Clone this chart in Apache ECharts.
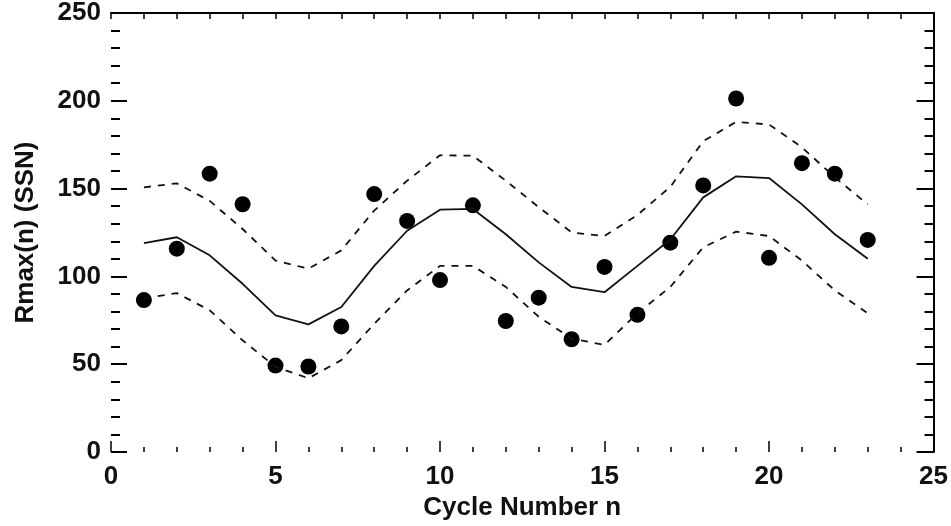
<!DOCTYPE html>
<html>
<head>
<meta charset="utf-8">
<script src="https://cdn.jsdelivr.net/npm/echarts@6/dist/echarts.min.js"></script>
<style>
  html, body { margin: 0; padding: 0; background: #fff; }
  #chart { width: 951px; height: 526px; }
</style>
</head>
<body>
<div id="chart"></div>
<script>
// cycle numbers
var cycles = [1, 2, 3, 4, 5, 6, 7, 8, 9, 10, 11, 12, 13, 14, 15, 16, 17, 18, 19, 20, 21, 22, 23];
// observed cycle maxima (dots)
var rmaxObs = [86.5, 115.8, 158.5, 141.1, 49.2, 48.7, 71.5, 146.9, 131.6, 97.9, 140.5, 74.6,
  87.9, 64.2, 105.4, 78.1, 119.2, 151.8, 201.3, 110.6, 164.5, 158.5, 120.8];
// fitted curve (solid)
var rmaxFit = [118.9, 122.3, 112, 95.8, 77.8, 72.7, 82.6, 106, 126, 138, 138.4, 124,
  108, 94, 91, 106, 121, 145, 157, 156, 141, 124, 110];
// upper / lower bounds (dashed)
var rmaxUpper = [150.7, 153, 143, 127, 109, 104.4, 114.8, 137.5, 154.5, 169, 168.7, 154.5,
  139.4, 125, 123, 135, 151, 177, 188, 186.5, 173.5, 156.4, 141];
var rmaxLower = [87.5, 90.5, 80.7, 63.6, 48.5, 42, 52.3, 73, 92, 106, 106, 94,
  77, 64.6, 61, 79, 94, 116.6, 125.5, 123, 109, 92, 79];

function pairs(ys) {
  return cycles.map(function (x, i) { return [x, ys[i]]; });
}

var font = 'Liberation Sans, Arial, Helvetica, sans-serif';
var chart = echarts.init(document.getElementById('chart'));

var option = {
  animation: false,
  backgroundColor: '#fff',
  grid: { left: 111, right: 14, top: 12, bottom: 74 },
  xAxis: [
    {
      type: 'value', position: 'bottom', min: 0, max: 25, interval: 5,
      name: 'Cycle Number n', nameLocation: 'middle', nameGap: 42,
      nameTextStyle: { fontFamily: font, fontSize: 26, fontWeight: 'bold', color: '#111' },
      axisLine: { show: false },
      axisTick: { inside: true, length: 11, lineStyle: { color: '#000', width: 1.5 } },
      minorTick: { show: true, splitNumber: 5, length: 5, lineStyle: { color: '#000', width: 1.5 } },
      axisLabel: { fontFamily: font, fontSize: 26, fontWeight: 'bold', color: '#111', margin: 12 },
      splitLine: { show: false }
    },
    {
      type: 'value', position: 'top', min: 0, max: 25, interval: 5,
      axisLine: { show: true, onZero: false, lineStyle: { color: '#000', width: 2 } },
      axisTick: { inside: true, length: 6, lineStyle: { color: '#000', width: 1.5 } },
      minorTick: { show: true, splitNumber: 5, length: 6, lineStyle: { color: '#000', width: 1.5 } },
      axisLabel: { show: false },
      splitLine: { show: false }
    }
  ],
  yAxis: [
    {
      type: 'value', position: 'left', min: 0, max: 250, interval: 50,
      name: 'Rmax(n) (SSN)', nameLocation: 'middle', nameGap: 72,
      nameTextStyle: { fontFamily: font, fontSize: 26, fontWeight: 'bold', color: '#111' },
      axisLine: { show: false },
      axisTick: { inside: true, length: 16, lineStyle: { color: '#000', width: 2 } },
      minorTick: { show: true, splitNumber: 5, length: 9, lineStyle: { color: '#000', width: 2 } },
      axisLabel: { fontFamily: font, fontSize: 26, fontWeight: 'bold', color: '#111', margin: 10 },
      splitLine: { show: false }
    },
    {
      type: 'value', position: 'right', min: 0, max: 250, interval: 50,
      axisLine: { show: true, onZero: false, lineStyle: { color: '#000', width: 2 } },
      axisTick: { inside: true, length: 17, lineStyle: { color: '#000', width: 2 } },
      minorTick: { show: true, splitNumber: 5, length: 9, lineStyle: { color: '#000', width: 2 } },
      axisLabel: { show: false },
      splitLine: { show: false }
    }
  ],
  series: [
    {
      type: 'line', data: pairs(rmaxUpper), symbol: 'none',
      lineStyle: { color: '#111', width: 1.8, type: [7, 7] }
    },
    {
      type: 'line', data: pairs(rmaxFit), symbol: 'none',
      lineStyle: { color: '#111', width: 1.8 }
    },
    {
      type: 'line', data: pairs(rmaxLower), symbol: 'none',
      lineStyle: { color: '#111', width: 1.8, type: [7, 7] }
    },
    {
      type: 'scatter', data: pairs(rmaxObs), symbol: 'circle', symbolSize: 16,
      itemStyle: { color: '#000', opacity: 1 }
    }
  ]
};

chart.setOption(option);
</script>
</body>
</html>
